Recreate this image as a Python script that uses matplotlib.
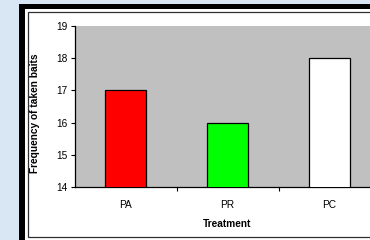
import matplotlib

matplotlib.use("Agg")
import matplotlib.pyplot as plt
from matplotlib.patches import Rectangle

plt.rcParams["font.family"] = ["Liberation Sans", "DejaVu Sans"]

treatments = ["PA", "PR", "PC"]
taken_baits = [17, 16, 18]
bar_colors = ["#ff0000", "#00ff00", "#ffffff"]
y_ticks = [14, 15, 16, 17, 18, 19]

W, H = 370, 240


def px(x0, y0, x1, y1):
    # pixel box (top-left origin) -> figure fraction (x, y, w, h)
    return x0 / W, 1 - y1 / H, (x1 - x0) / W, (y1 - y0) / H


fig = plt.figure(figsize=(W / 100, H / 100), dpi=100)
fig.patch.set_facecolor("#d9e6f3")

# framed chart area: thick black border, white fill, thin inner line
for box, kw in [
    (px(19, 4, 380, 250), dict(facecolor="black", edgecolor="none")),
    (px(25, 9, 380, 250), dict(facecolor="white", edgecolor="none")),
    (px(27.5, 11.5, 380, 236.5), dict(facecolor="white", edgecolor="#303030", lw=0.9)),
]:
    x, y, w, h = box
    fig.patches.append(Rectangle((x, y), w, h, transform=fig.transFigure,
                                 zorder=-5, **kw))

ax = fig.add_axes(px(74.5, 26, 380.5, 187))
ax.set_zorder(2)
ax.set_facecolor("#c0c0c0")

ax.bar(range(len(treatments)), taken_baits, width=0.4, bottom=0,
       color=bar_colors, edgecolor="black", linewidth=0.9, zorder=3)

ax.set_xlim(-0.5, len(treatments) - 0.5)
ax.set_ylim(y_ticks[0], y_ticks[-1])
ax.set_yticks(y_ticks)
ax.set_xticks(range(len(treatments)))
ax.set_xticklabels(treatments)
ax.set_xticks([i + 0.5 for i in range(len(treatments))], minor=True)

fs = 7.3
ax.tick_params(axis="y", length=3, width=0.8, pad=2, labelsize=fs, direction="out")
ax.tick_params(axis="x", which="major", length=0, pad=9, labelsize=fs)
ax.tick_params(axis="x", which="minor", length=3, width=0.8, direction="out")

for side in ("top", "right"):
    ax.spines[side].set_visible(False)
for side in ("left", "bottom"):
    ax.spines[side].set_linewidth(0.9)

ax.set_xlabel("Treatment", fontsize=fs, fontweight="bold", labelpad=7)
ax.set_ylabel("Frequency of taken baits", fontsize=fs, fontweight="bold")
ax.yaxis.set_label_coords(-0.112, 0.46)

fig.savefig("out.png", dpi=100, facecolor=fig.get_facecolor())
